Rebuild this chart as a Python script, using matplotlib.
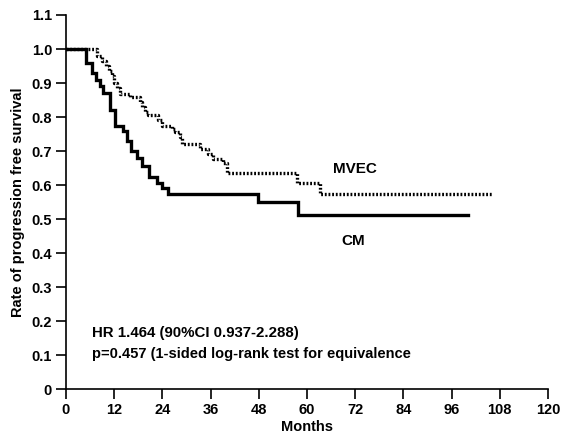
import matplotlib
matplotlib.use("Agg")
import matplotlib.pyplot as plt

plt.rcParams['font.family'] = ['Liberation Sans', 'DejaVu Sans']

# CM arm: event times (months) and survival after each step
cm_times = [0, 5.0, 6.4, 7.5, 8.5, 9.3, 11.0, 12.2, 14.3, 15.1, 16.3, 17.8, 18.8,
            20.7, 22.6, 23.8, 25.5, 47.9, 57.7, 100.0]
cm_surv = [1.0, 0.96, 0.93, 0.91, 0.89, 0.87, 0.82, 0.775, 0.76, 0.73, 0.70, 0.68,
           0.655, 0.625, 0.605, 0.59, 0.573, 0.551, 0.511, 0.511]

# MVEC arm
mvec_times = [0, 7.6, 9.0, 10.0, 10.8, 11.4, 12.0, 12.6, 13.4, 16.0, 18.4, 18.8, 19.7,
              20.5, 23.0, 23.8, 26.3, 27.1, 28.4, 28.8, 33.4, 35.4, 36.7, 39.2, 40.0,
              57.4, 63.2, 106.0]
mvec_surv = [1.0, 0.98, 0.965, 0.95, 0.935, 0.92, 0.90, 0.885, 0.868, 0.858, 0.845,
             0.83, 0.815, 0.805, 0.79, 0.775, 0.765, 0.755, 0.74, 0.72, 0.705, 0.69,
             0.675, 0.665, 0.635, 0.605, 0.575, 0.575]

x_ticks = [0, 12, 24, 36, 48, 60, 72, 84, 96, 108, 120]
y_ticks = [0, 0.1, 0.2, 0.3, 0.4, 0.5, 0.6, 0.7, 0.8, 0.9, 1.0, 1.1]
y_labels = ['0', '0.1', '0.2', '0.3', '0.4', '0.5', '0.6', '0.7', '0.8', '0.9', '1.0', '1.1']

fig = plt.figure(figsize=(5.7, 4.44), dpi=100)
ax = fig.add_axes([66/570, 1-389/444, (548-66)/570, (389-15)/444])

ax.plot(cm_times, cm_surv, drawstyle='steps-post', color='black', lw=2.4,
        solid_joinstyle='miter')
ax.plot(mvec_times, mvec_surv, drawstyle='steps-post', color='black', lw=2.4,
        linestyle=(0, (0.55, 0.55)))

ax.set_xlim(0, 120)
ax.set_ylim(0, 1.1)
ax.set_xticks(x_ticks)
ax.set_xticklabels([str(v) for v in x_ticks], fontsize=10.5, fontweight='bold')
ax.set_yticks(y_ticks)
ax.set_yticklabels(y_labels, fontsize=10.5, fontweight='bold')
ax.tick_params(direction='out', length=7, width=1.2, pad=3)

for side in ['top', 'right']:
    ax.spines[side].set_visible(False)
for side in ['left', 'bottom']:
    ax.spines[side].set_linewidth(1.2)

ax.set_xlabel('Months', fontsize=10.5, fontweight='bold', labelpad=2)
ax.set_ylabel('Rate of progression free survival', fontsize=10.5, fontweight='bold', labelpad=5)

ax.text(66.5, 0.647, 'MVEC', fontsize=11, fontweight='bold', va='center')
ax.text(68.5, 0.435, 'CM', fontsize=11, fontweight='bold', va='center')
ax.text(6.5, 0.165, 'HR 1.464 (90%CI 0.937-2.288)', fontsize=10.8, fontweight='bold', va='center')
ax.text(6.5, 0.103, 'p=0.457 (1-sided log-rank test for equivalence', fontsize=10.5, fontweight='bold', va='center')

fig.savefig('out.png', dpi=100)
